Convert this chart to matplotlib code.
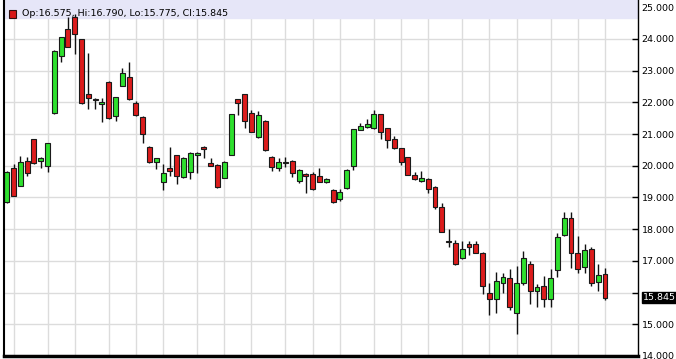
import matplotlib
matplotlib.use("Agg")
import matplotlib.pyplot as plt
import matplotlib.transforms as mtransforms
from matplotlib.patches import Rectangle
import numpy as np

# daily candles, oldest first
opens = [18.87, 19.92, 19.37, 20.16, 20.84, 20.16, 20.00, 21.66, 23.47, 24.31,
         24.68, 23.99, 22.26, 22.11, 21.94, 22.65, 21.57, 22.53, 22.79, 21.97,
         21.55, 20.60, 20.11, 19.48, 19.92, 20.33, 19.64, 19.81, 20.34, 20.60,
         20.08, 20.03, 19.61, 20.34, 22.10, 22.26, 21.66, 20.90, 21.42, 20.29,
         19.92, 20.11, 20.16, 19.53, 19.73, 19.74, 19.69, 19.50, 19.24, 18.95,
         19.29, 20.00, 21.13, 21.21, 21.18, 21.62, 21.18, 20.84, 20.55, 20.27,
         19.71, 19.53, 19.57, 19.32, 18.71, 17.62, 17.57, 17.08, 17.53, 17.52,
         17.26, 15.98, 15.79, 16.29, 16.45, 15.35, 16.29, 16.89, 16.06, 16.22,
         15.79, 16.71, 17.82, 18.34, 17.24, 16.80, 17.37, 16.33, 16.575]
highs = [19.83, 20.05, 20.31, 20.29, 20.86, 20.29, 20.73, 23.65, 24.07, 24.70,
         24.78, 24.01, 23.55, 22.13, 22.13, 22.68, 22.17, 23.08, 23.26, 22.05,
         21.56, 20.62, 20.25, 20.06, 20.60, 20.35, 20.28, 20.43, 20.43, 20.61,
         20.24, 20.05, 20.14, 21.64, 22.12, 22.28, 21.76, 21.74, 21.44, 20.30,
         20.24, 20.27, 20.18, 19.89, 19.76, 19.81, 19.92, 19.60, 19.26, 19.26,
         19.89, 21.17, 21.34, 21.47, 21.76, 21.64, 21.20, 20.94, 20.56, 20.28,
         19.81, 19.84, 19.60, 19.37, 18.84, 18.00, 17.66, 17.64, 17.63, 17.64,
         17.28, 16.29, 16.64, 16.63, 16.74, 16.84, 17.31, 17.00, 16.27, 16.52,
         16.74, 17.87, 18.53, 18.53, 17.79, 17.52, 17.43, 16.89, 16.79]
lows = [18.84, 19.05, 19.35, 19.69, 20.06, 19.92, 19.81, 21.64, 23.26, 23.74,
        23.52, 21.95, 21.79, 21.79, 21.39, 21.48, 21.41, 22.52, 22.08, 21.58,
        20.71, 20.10, 19.89, 19.24, 19.69, 19.42, 19.62, 19.57, 19.76, 20.26,
        19.98, 19.30, 19.60, 20.33, 21.60, 21.20, 21.06, 20.88, 20.48, 19.85,
        19.85, 19.95, 19.66, 19.45, 19.13, 19.24, 19.48, 19.45, 18.83, 18.89,
        19.27, 19.87, 21.12, 21.20, 21.17, 20.84, 20.57, 20.53, 20.03, 19.70,
        19.56, 19.50, 19.15, 18.63, 17.90, 17.45, 16.87, 17.07, 17.19, 17.24,
        15.95, 15.29, 15.37, 16.00, 15.45, 14.68, 16.24, 15.64, 15.56, 15.56,
        15.56, 16.50, 17.78, 16.77, 16.61, 16.63, 16.21, 16.06, 15.775]
closes = [19.81, 19.06, 20.13, 19.76, 20.08, 20.24, 20.71, 23.63, 24.05, 23.76,
          24.15, 21.97, 22.15, 22.07, 22.00, 21.50, 22.16, 22.92, 22.10, 21.60,
          20.99, 20.11, 20.24, 19.76, 19.84, 19.68, 20.26, 20.41, 20.41, 20.52,
          19.99, 19.32, 20.13, 21.62, 21.97, 21.41, 21.08, 21.60, 20.50, 19.95,
          20.11, 20.08, 19.76, 19.87, 19.69, 19.26, 19.50, 19.58, 18.85, 19.16,
          19.87, 21.15, 21.26, 21.32, 21.62, 21.06, 20.81, 20.55, 20.11, 19.71,
          19.57, 19.61, 19.26, 18.69, 17.92, 17.60, 16.89, 17.37, 17.43, 17.26,
          16.21, 15.79, 16.38, 16.48, 15.56, 16.29, 17.08, 16.06, 16.17, 15.79,
          16.45, 17.76, 18.34, 17.24, 16.74, 17.34, 16.31, 16.56, 15.845]

# candles that carry a vertical grid line
grid_candles = [1, 6, 10, 15, 19, 23, 28, 32, 36, 41, 45, 49, 54, 58, 62, 67,
                71, 75, 80, 84, 88]
price_ticks = [14, 15, 16, 17, 18, 19, 20, 21, 22, 23, 24, 25]

W, H = 676, 359
fig = plt.figure(figsize=(W / 100, H / 100), dpi=100)
fig.patch.set_facecolor("white")
ax = fig.add_axes([4 / W, 3 / H, 634 / W, 356 / H])

o = np.array(opens)
h = np.array(highs)
l = np.array(lows)
c = np.array(closes)
x = np.arange(len(o))

up = c >= o
red = "#dc1c1c"
green = "#2ee02e"
cols = np.where(up, green, red)

ax.vlines(x, l, h, color="#111111", lw=1, zorder=3)
body_lo = np.minimum(o, c)
body_h = np.maximum(np.abs(c - o), 0.03)
ax.bar(x, body_h, bottom=body_lo, width=0.72, color=cols,
       edgecolor="#1a1a1a", linewidth=0.8, zorder=4)

# grid
for g in grid_candles:
    ax.axvline(g, color="#dcdcdc", lw=1, zorder=1)
for p in price_ticks:
    ax.axhline(p, color="#dcdcdc", lw=1, zorder=1)

ax.set_xlim(-0.4, 92.85)
ax.set_ylim(14, 25.23)

# header band
ax.axhspan(24.66, 25.5, color="#e6e6f8", zorder=2)

ax.set_xticks([])
ax.yaxis.tick_right()
ax.set_yticks(price_ticks)
last = closes[-1]
ax.set_yticklabels(["" if abs(p - last) < 0.5 else "%.3f" % p for p in price_ticks])
ax.tick_params(axis="y", direction="in", length=4, width=1, pad=2.5,
               labelsize=6.8, colors="black")

for s in ["top"]:
    ax.spines[s].set_visible(False)
ax.spines["left"].set_linewidth(1.5)
ax.spines["bottom"].set_linewidth(2.5)
ax.spines["right"].set_linewidth(1)
for s in ax.spines.values():
    s.set_zorder(5)

# last price box
trans = mtransforms.blended_transform_factory(ax.transAxes, ax.transData)
ax.text(1.008, last, "%.3f" % last, transform=trans, color="white",
        fontsize=6.8, va="center", ha="left", clip_on=False,
        bbox=dict(boxstyle="square,pad=0.15", fc="black", ec="black"))

# header: OHLC of last candle
fig.patches.append(Rectangle((9 / W, 1 - 17.5 / H), 7 / W, 7 / H,
                             transform=fig.transFigure, fc="#d81818",
                             ec="#301010", lw=0.8))
fig.text(21.5 / W, 1 - 14 / H,
         "Op:%.3f, Hi:%.3f, Lo:%.3f, Cl:%.3f" % (opens[-1], highs[-1], lows[-1], closes[-1]),
         fontsize=6.8, va="center", ha="left", color="black")

fig.savefig("out.png", dpi=100)
